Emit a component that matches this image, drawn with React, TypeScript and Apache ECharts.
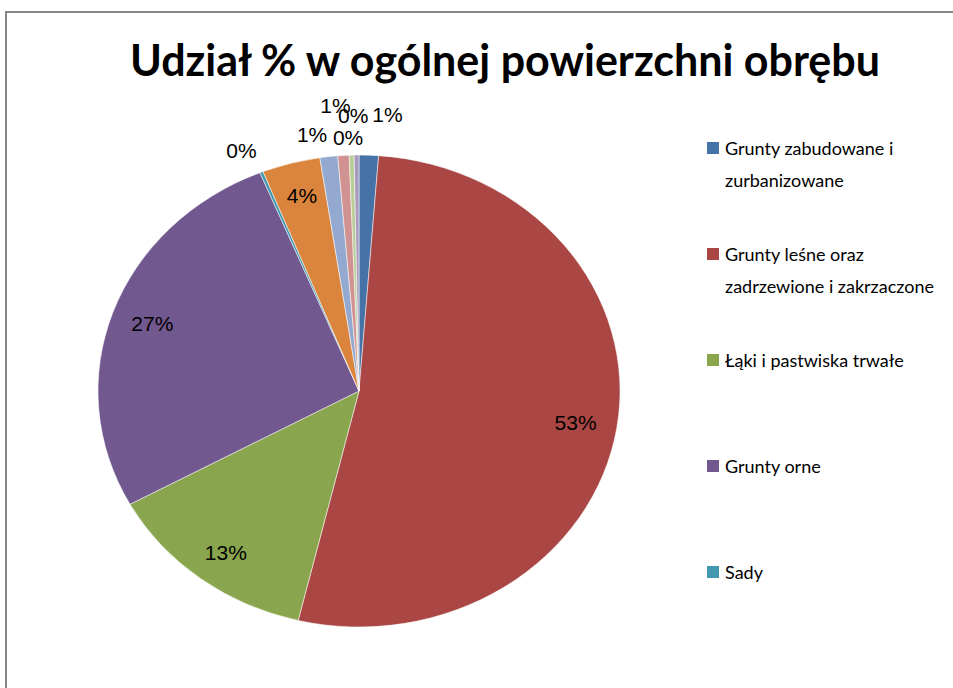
import React, { useEffect, useRef } from "react";
import * as echarts from "echarts";

const TITLE = "Udział % w ogólnej powierzchni obrębu";

const categories = [
  "Grunty zabudowane i zurbanizowane",
  "Grunty leśne oraz zadrzewione i zakrzaczone",
  "Łąki i pastwiska trwałe",
  "Grunty orne",
  "Sady",
  "Grunty pod wodami",
  "Nieużytki",
  "Tereny różne",
  "Grunty rolne zabudowane",
  "Grunty pod rowami",
];

const values = [1.2, 52.6, 13.3, 26.8, 0.2, 3.6, 1.1, 0.7, 0.3, 0.3];

const colors = [
  "#4572A7",
  "#AA4643",
  "#89A54E",
  "#71588F",
  "#4198AF",
  "#DB843D",
  "#93A9CF",
  "#D19392",
  "#B9CD96",
  "#A99BBD",
];

// Excel shows only the first five legend entries
const legendCount = 5;

export default function App() {
  const ref = useRef<HTMLDivElement>(null);

  useEffect(() => {
    const chart = echarts.init(ref.current!, null, { renderer: "svg" });
    const total = values.reduce((a, b) => a + b, 0);
    const cum: number[] = [];
    let acc = 0;
    for (const v of values) {
      cum.push(acc);
      acc += v;
    }
    const CX = 359,
      CY = 391,
      RX = 261,
      RY = 236;
    // layout nudges for crowded outside labels (Excel collision avoidance)
    const labelNudge: Record<number, [number, number]> = {
      0: [3, -18],
      7: [8, -28],
      8: [12, 5],
      9: [12, -17],
    };
    const legendX = 707,
      legendY0 = 148,
      legendStep = 106;

    const legendElems: any[] = [];
    categories.slice(0, legendCount).forEach((name, i) => {
      legendElems.push({
        type: "rect",
        shape: { x: legendX, y: legendY0 + i * legendStep - 6, width: 12, height: 12 },
        style: { fill: colors[i] },
      });
      legendElems.push({
        type: "text",
        x: legendX + 18,
        y: legendY0 + i * legendStep - 16,
        style: {
          text: name,
          width: 226,
          overflow: "break",
          lineHeight: 32,
          fontSize: 18,
          fontFamily: "Lato",
          fill: "#000",
          align: "left",
          verticalAlign: "top",
          textAlign: "left",
          textVerticalAlign: "top",
        },
      });
    });

    chart.setOption({
      animation: false,
      backgroundColor: "#fff",
      graphic: [
        {
          type: "rect",
          shape: { x: 6, y: 12, width: 2000, height: 2000 },
          style: { fill: "none", stroke: "#868686", lineWidth: 2 },
        },
        {
          type: "text",
          x: 505,
          y: 59,
          style: {
            text: TITLE,
            fontSize: 43,
            fontWeight: "bold",
            fontFamily: "Lato",
            fill: "#000",
            align: "center",
            verticalAlign: "middle",
            textAlign: "center",
            textVerticalAlign: "middle",
          },
        },
        ...legendElems,
      ],
      series: [
        {
          type: "custom",
          coordinateSystem: "none",
          data: values.map((v, i) => ({ name: categories[i], value: [v] })),
          renderItem: (params: any, api: any) => {
            const i = params.dataIndex;
            const v = api.value(0) as number;
            const a0 = -Math.PI / 2 + (2 * Math.PI * cum[i]) / total;
            const a1 = a0 + (2 * Math.PI * v) / total;
            const mid = (a0 + a1) / 2;
            const cos = Math.cos(mid);
            const sin = Math.sin(mid);
            const pctText = Math.round((v / total) * 100) + "%";
            const inside = v / total >= 0.03;
            let lx: number, ly: number, align: string, vAlign: string;
            if (inside) {
              lx = CX + RX * 0.84 * cos;
              ly = CY + RY * 0.86 * sin;
              align = "center";
              vAlign = "middle";
            } else {
              lx = CX + RX * 1.05 * cos;
              ly = CY + RY * 1.05 * sin;
              align = cos < 0 ? "right" : "left";
              vAlign = sin < 0 ? "bottom" : "top";
              const n = labelNudge[i];
              if (n) {
                lx += n[0];
                ly += n[1];
              }
            }
            return {
              type: "group",
              children: [
                {
                  type: "group",
                  x: CX,
                  y: CY,
                  scaleX: RX / RY,
                  children: [
                    {
                      type: "sector",
                      shape: { cx: 0, cy: 0, r: RY, r0: 0, startAngle: a0, endAngle: a1, clockwise: true },
                      style: { fill: colors[i], stroke: "#ffffff", lineWidth: 0.5 },
                    },
                  ],
                },
                {
                  type: "text",
                  x: lx,
                  y: ly,
                  z2: 10,
                  style: {
                    text: pctText,
                    fill: "#000",
                    fontSize: 21,
                    fontFamily: "Liberation Sans",
                    align,
                    verticalAlign: vAlign,
                    textAlign: align,
                    textVerticalAlign: vAlign,
                  },
                },
              ],
            };
          },
        },
      ],
    });
    return () => chart.dispose();
  }, []);

  return (
    <div
      ref={ref}
      style={{ position: "fixed", left: 0, top: 0, width: 953, height: 688 }}
    />
  );
}
